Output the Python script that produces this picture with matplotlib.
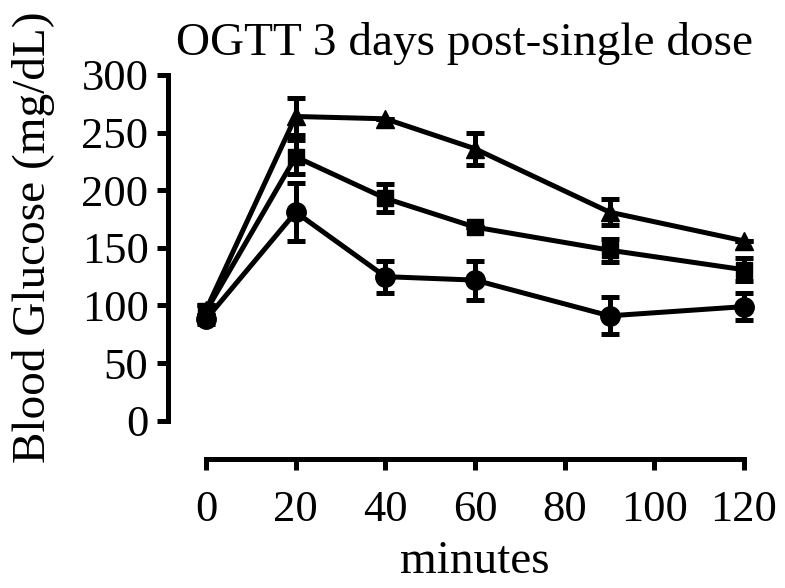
import numpy as np
import matplotlib.pyplot as plt

plt.rcParams['font.family'] = ['Liberation Serif', 'DejaVu Serif']

minutes = [0, 20, 40, 60, 90, 120]
tri = [96, 264, 262, 236, 181, 156]
tri_err = [4, 16, 0, 14, 11, 0]
sq = [95, 229, 193, 168, 148, 131]
sq_err = [5, 15, 12, 0, 10, 10]
circ = [88, 181, 125, 122, 91, 99]
circ_err = [4, 25, 14, 17, 16, 12]

xticks = [0, 20, 40, 60, 80, 100, 120]
yticks = [0, 50, 100, 150, 200, 250, 300]

W, H = 785, 588
fig = plt.figure(figsize=(W/100, H/100), dpi=100)
# axes box in pixels: x 206..744, y 75..420.7
ax = fig.add_axes([206/W, 1-420.7/H, (744-206)/W, (420.7-75)/H])

lw = 3.6
for y, e, m, ms in [(circ, circ_err, 'o', 14), (sq, sq_err, 's', 11), (tri, tri_err, '^', 13)]:
    ax.errorbar(minutes, y, yerr=e, color='black', marker=m, markersize=ms,
                linewidth=lw, elinewidth=lw, capsize=6.5, capthick=lw, clip_on=False)

ax.set_xlim(0, 120)
ax.set_ylim(0, 300)
ax.set_xticks(xticks)
ax.set_yticks(yticks)
for s in ['top', 'right']:
    ax.spines[s].set_visible(False)
ax.spines['left'].set_position(('outward', 27.4))
ax.spines['bottom'].set_position(('outward', 27.6))
for s in ['left', 'bottom']:
    ax.spines[s].set_linewidth(lw)
ax.tick_params(width=lw, length=8, labelsize=32)
ax.tick_params(axis='x', pad=14)
ax.tick_params(axis='y', pad=6)

fig.text(465/W, 1-55/H, 'OGTT 3 days post-single dose', fontsize=34, ha='center', va='baseline')
fig.text(34/W, 1-237/H, 'Blood Glucose (mg/dL)', fontsize=34, rotation=90, ha='center', va='center')
fig.text(475/W, 1-573/H, 'minutes', fontsize=34, ha='center', va='baseline')

fig.savefig('out.png', dpi=100)
